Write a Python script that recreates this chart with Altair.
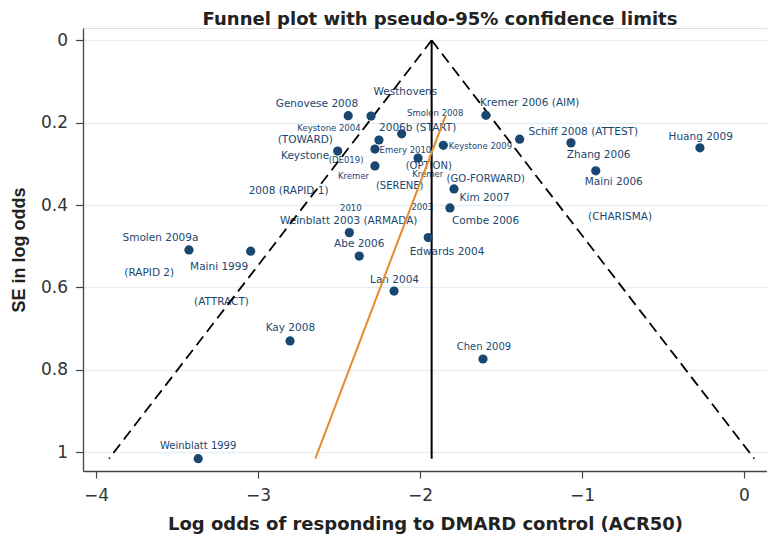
import altair as alt
import pandas as pd

# ---- study estimates (log odds, SE) ----
studies = [
    "Genovese 2008 (TOWARD)", "Keystone 2004", "Kremer 2006 (AIM)", "Westhovens 2006b (START)",
    "Schiff 2008 (ATTEST)", "Zhang 2006", "Huang 2009", "Maini 2006 (CHARISMA)",
    "Keystone 2009 (GO-FORWARD)", "Smolen 2008 (OPTION)", "Keystone 2008 (RAPID 1)", "Emery 2010 (SERENE)",
    "Keystone (DE019)", "Kremer 2010", "Kim 2007", "Combe 2006", "Edwards 2004",
    "Weinblatt 2003 (ARMADA)", "Abe 2006", "Smolen 2009a (RAPID 2)", "Maini 1999 (ATTRACT)",
    "Lan 2004", "Kay 2008", "Chen 2009", "Weinblatt 1999",
]
log_odds = [-2.443, -2.302, -1.593, -2.113, -1.385, -1.068, -0.272, -0.915,
            -1.856, -2.012, -2.253, -2.278, -2.508, -2.278, -1.790, -1.815, -1.949,
            -2.436, -2.375, -3.426, -3.045, -2.160, -2.802, -1.611, -3.369]
se = [0.183, 0.184, 0.182, 0.227, 0.240, 0.249, 0.261, 0.317,
      0.255, 0.286, 0.242, 0.264, 0.269, 0.305, 0.361, 0.407, 0.479,
      0.467, 0.524, 0.509, 0.512, 0.609, 0.730, 0.774, 1.016]

# pooled estimate and regression (Egger) line end points
pooled = -1.928
egger_x = [-1.841, -2.646]
egger_se = [0.182, 1.016]

# ---- marker labels (text, log odds, SE of the label anchor) ----
big_text = ["Genovese 2008", "Westhovens", "(TOWARD)", "2006b (START)", "Keystone", "2008 (RAPID 1)",
            "Kremer 2006 (AIM)", "Schiff 2008 (ATTEST)", "Zhang 2006", "Huang 2009", "Maini 2006",
            "(CHARISMA)", "Kim 2007", "Combe 2006", "Edwards 2004", "Weinblatt 2003 (ARMADA)",
            "Abe 2006", "Smolen 2009a", "Maini 1999", "(RAPID 2)", "Lan 2004", "(ATTRACT)", "Kay 2008"]
big_x = [-2.636, -2.090, -2.708, -2.014, -2.709, -2.811,
         -1.323, -0.992, -0.897, -0.267, -0.804,
         -0.765, -1.601, -1.595, -1.833, -2.440,
         -2.375, -3.602, -3.240, -3.671, -2.157, -3.225, -2.800]
big_se = [0.155, 0.126, 0.242, 0.212, 0.281, 0.366,
          0.151, 0.222, 0.278, 0.235, 0.344,
          0.430, 0.382, 0.438, 0.513, 0.439,
          0.495, 0.481, 0.551, 0.566, 0.582, 0.636, 0.699]

mid_text = ["(OPTION)", "(SERENE)", "(GO-FORWARD)", "Chen 2009", "Weinblatt 1999"]
mid_x = [-1.946, -2.125, -1.594, -1.605, -3.369]
mid_se = [0.305, 0.354, 0.336, 0.746, 0.986]

small_text = ["Keystone 2004", "Smolen 2008", "Keystone 2009", "Emery 2010", "(DE019)",
              "Kremer", "Kremer", "2010", "2003"]
small_x = [-2.562, -1.906, -1.627, -2.090, -2.456, -2.410, -1.952, -2.427, -1.986]
small_se = [0.212, 0.177, 0.257, 0.267, 0.291, 0.330, 0.325, 0.408, 0.404]

x_ticks = [-4, -3, -2, -1, 0]
y_ticks = [0, 0.2, 0.4, 0.6, 0.8, 1.0]

# ---- tables ----
pts = pd.DataFrame({"study": studies, "lo": log_odds, "se": se})
se_max = max(se)
funnel = pd.DataFrame({
    "x": [pooled, pooled],
    "y": [0.0, 0.0],
    "x2": [pooled - 1.96 * se_max, pooled + 1.96 * se_max],
    "y2": [se_max, se_max],
})
vline = pd.DataFrame({"x": [pooled], "y": [0.0], "y2": [se_max]})
egger = pd.DataFrame({"x": [egger_x[0]], "y": [egger_se[0]], "x2": [egger_x[1]], "y2": [egger_se[1]]})
big = pd.DataFrame({"t": big_text, "x": big_x, "y": big_se})
mid = pd.DataFrame({"t": mid_text, "x": mid_x, "y": mid_se})
small = pd.DataFrame({"t": small_text, "x": small_x, "y": small_se})

NAVY = "#1a476f"
xs = alt.Scale(domain=[-4.08, 0.142], nice=False, zero=False)
ys = alt.Scale(domain=[-0.030, 1.046], reverse=True, nice=False, zero=False)

x_axis = alt.Axis(values=x_ticks, format="d", grid=False, tickSize=7, tickColor="#444",
                  domainColor="#444", domainWidth=1.3, tickWidth=1.2,
                  labelFont="DejaVu Sans", labelFontSize=17, labelColor="#333", labelPadding=9,
                  title="Log odds of responding to DMARD control (ACR50)",
                  titleFont="DejaVu Sans", titleFontSize=18, titleFontWeight="bold",
                  titleColor="#222", titlePadding=12)
y_axis = alt.Axis(values=y_ticks, format=".1~f", grid=True, gridColor="#e6eff1", gridWidth=1.3,
                  tickSize=7.5, tickColor="#444", domainColor="#444", domainWidth=1.3, tickWidth=1.2,
                  labelFont="DejaVu Sans", labelFontSize=17, labelColor="#333", labelPadding=8,
                  title="SE in log odds", titleFont="Liberation Sans", titleFontSize=18,
                  titleFontWeight="bold", titleColor="#222", titlePadding=12)

base_pts = alt.Chart(pts).mark_circle(size=85, color=NAVY, opacity=1).encode(
    x=alt.X("lo:Q", scale=xs, axis=x_axis),
    y=alt.Y("se:Q", scale=ys, axis=y_axis),
)

def text_layer(df, size):
    return alt.Chart(df).mark_text(font="DejaVu Sans", fontSize=size, color=NAVY,
                                   align="center", baseline="middle").encode(
        x=alt.X("x:Q", scale=xs), y=alt.Y("y:Q", scale=ys), text="t:N")

funnel_l = alt.Chart(funnel).mark_rule(color="black", strokeWidth=1.8, strokeDash=[11, 6]).encode(
    x=alt.X("x:Q", scale=xs), y=alt.Y("y:Q", scale=ys), x2="x2:Q", y2="y2:Q")
vline_l = alt.Chart(vline).mark_rule(color="black", strokeWidth=2).encode(
    x=alt.X("x:Q", scale=xs), y=alt.Y("y:Q", scale=ys), y2="y2:Q")
egger_l = alt.Chart(egger).mark_rule(color="#e8892b", strokeWidth=2).encode(
    x=alt.X("x:Q", scale=xs), y=alt.Y("y:Q", scale=ys), x2="x2:Q", y2="y2:Q")

chart = alt.layer(
    base_pts.mark_circle(opacity=0),
    text_layer(big, 10.5), text_layer(mid, 10), text_layer(small, 8.5),
    funnel_l, vline_l, egger_l,
    base_pts,
).properties(
    width=684, height=443,
    title=alt.TitleParams("Funnel plot with pseudo-95% confidence limits", font="DejaVu Sans",
                          fontSize=18, fontWeight="bold", color="#222", anchor="middle",
                          dx=15, dy=23, offset=8, baseline="alphabetic"),
    autosize=alt.AutoSizeParams(type="none"),
    padding={"left": 75, "top": 20, "right": 0, "bottom": 74},
).configure_view(stroke=None).configure(background="white")

chart.save("out.html", embed_options={"renderer": "svg", "actions": False})
